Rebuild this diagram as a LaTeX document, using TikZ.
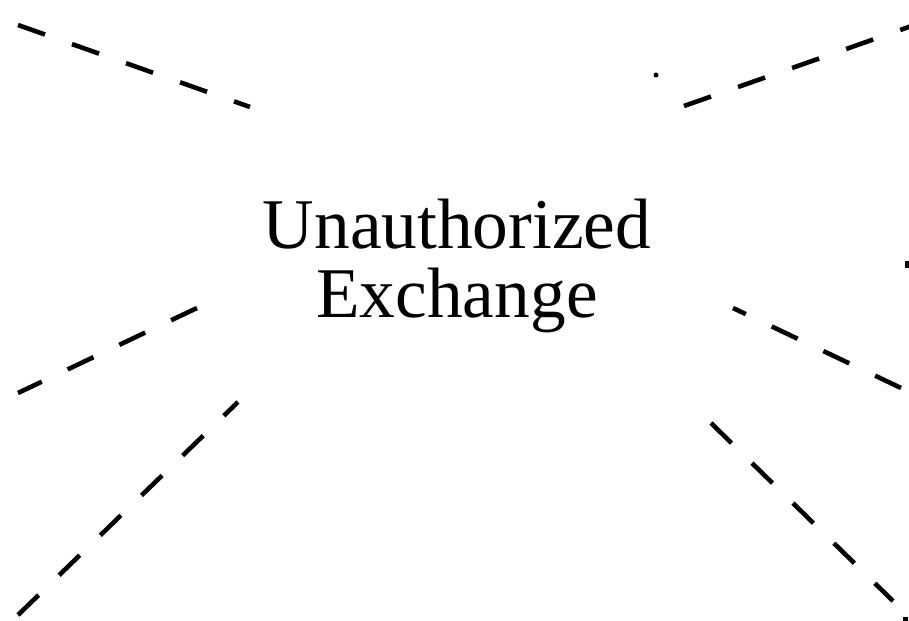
\documentclass[tikz,border=0pt]{standalone}
\usepackage{fontspec}
\setmainfont{Liberation Serif}
\usetikzlibrary{calc}

\begin{document}
\begin{tikzpicture}[
  thick,
  exchange/.style={
    rectangle,
    align=center,
    inner sep=0pt,
    font=\fontsize{40.6pt}{39pt}\selectfont
  },
  link/.style={
    draw=black,
    line width=2.6pt,
    dash pattern=on 16.3pt off 16.3pt
  },
  stub/.style={
    fill=black
  }
  ]
\useasboundingbox (0,0) rectangle (18.18,-12.42);
\clip (0,0) rectangle (18.18,-12.42);
% Exchange
\node [exchange] (exchange) at (9.14,-5.32) {Unauthorized\\ Exchange};
\coordinate (exchange nw) at ($(exchange) + (-4.14,3.18)$);
\coordinate (exchange ne) at ($(exchange) + (4.54,3.20)$);
\coordinate (exchange w) at ($(exchange) + (-5.20,-0.84)$);
\coordinate (exchange e) at ($(exchange) + (5.52,-0.84)$);
\coordinate (exchange sw) at ($(exchange) + (-4.38,-2.72)$);
\coordinate (exchange se) at ($(exchange) + (5.08,-3.14)$);
% Outer ends
\coordinate (top left) at (0.36,-0.50);
\coordinate (top right) at (18.80,-0.32);
\coordinate (mid left) at (0.36,-7.86);
\coordinate (mid right) at (18.02,-7.76);
\coordinate (low left) at (0.36,-12.30);
\coordinate (low right) at (17.86,-12.02);
% Links
\draw [link] (top left) -- (exchange nw);
\draw [link] (exchange ne) -- (top right);
\draw [link] (exchange w) -- (mid left);
\draw [link] (mid right) -- (exchange e);
\draw [link] (low left) -- (exchange sw);
\draw [link] (exchange se) -- (low right);
% Stubs
\coordinate (stub top) at (13.12,-1.50);
\coordinate (stub right) at (18.14,-5.30);
\coordinate (stub corner) at (18.10,-12.38);
\fill [stub] (stub top) circle (0.05);
\fill [stub] ($(stub right) + (-0.04,0.07)$) rectangle ($(stub right) + (0.04,-0.07)$);
\fill [stub] ($(stub corner) + (-0.05,0.05)$) rectangle ($(stub corner) + (0.05,-0.05)$);
\end{tikzpicture}
\end{document}
